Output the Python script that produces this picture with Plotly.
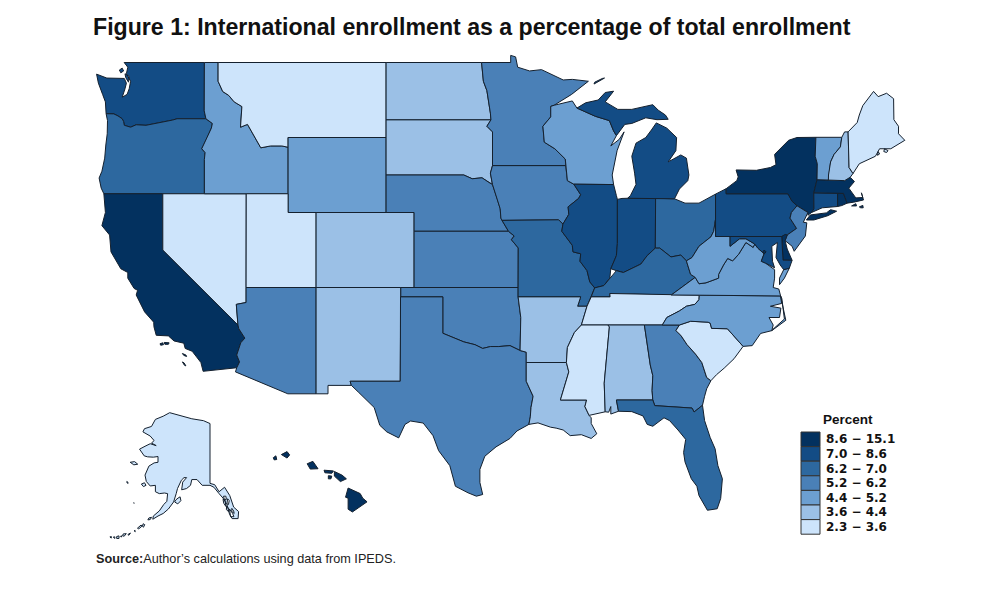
import plotly.graph_objects as go

# class of each state, 0 = lowest bin, 6 = highest bin
bin_labels = ["2.3 − 3.6", "3.6 − 4.4", "4.4 − 5.2", "5.2 − 6.2", "6.2 − 7.0", "7.0 − 8.6", "8.6 − 15.1"]
bin_colors = ["#cde4fb", "#9bc0e6", "#6c9fd1", "#4a80b7", "#2d689f", "#134c85", "#03315f"]
state_bins = {
    "WA": 5, "OR": 4, "CA": 6, "NV": 0, "ID": 2, "MT": 0, "WY": 2, "UT": 0, "CO": 1, "AZ": 3,
    "NM": 1, "ND": 1, "SD": 1, "NE": 3, "KS": 3, "OK": 3, "TX": 3, "MN": 3, "IA": 3, "MO": 4,
    "AR": 1, "LA": 1, "WI": 2, "IL": 5, "IN": 5, "MI": 5, "OH": 4, "KY": 4, "TN": 0, "MS": 0,
    "AL": 1, "GA": 3, "FL": 4, "SC": 0, "NC": 2, "VA": 2, "WV": 2, "PA": 5, "NY": 6, "VT": 2,
    "NH": 1, "ME": 0, "MA": 6, "RI": 6, "CT": 5, "NJ": 3, "DE": 6, "MD": 5, "DC": 6, "AK": 0,
    "HI": 6,
}

# state outlines as (lon, lat) rings
outlines = {
    "WA": [[(-117.03,49),(-122.76,49),(-122.5,48.75),(-122.6,48.4),(-122.3,48),(-122.4,47.6),(-122.55,47.3),(-122.9,47.15),(-122.7,47.6),(-122.6,47.9),(-122.75,48.15),(-123.15,48.15),(-124,48.17),(-124.73,48.38),(-124.6,47.9),(-124.3,47.3),(-124.1,46.9),(-124.05,46.27),(-123.5,46.26),(-123.2,46.15),(-122.9,46),(-122.8,45.85),(-122.75,45.65),(-122.3,45.55),(-121.9,45.68),(-121.2,45.65),(-120.6,45.73),(-119.9,45.85),(-119.3,45.93),(-118.98,46),(-116.92,46),(-117.04,46.42)],
           [(-123.1,48.6),(-122.9,48.7),(-122.8,48.55),(-123,48.45)], [(-122.7,48.4),(-122.4,48.25),(-122.45,47.95),(-122.65,48.2)]],
    "OR": [[(-124.05,46.27),(-123.5,46.26),(-123.2,46.15),(-122.9,46),(-122.8,45.85),(-122.75,45.65),(-122.3,45.55),(-121.9,45.68),(-121.2,45.65),(-120.6,45.73),(-119.9,45.85),(-119.3,45.93),(-118.98,46),(-116.92,46),(-116.46,45.75),(-116.53,45.5),(-116.85,44.95),(-117.22,44.4),(-116.98,44.2),(-117.03,43.83),(-117.03,42),(-120,42),(-124.21,42),(-124.4,42.3),(-124.55,42.84),(-124.35,43.2),(-124.15,43.9),(-124.07,44.6),(-123.97,45.2),(-123.95,45.9)]],
    "CA": [[(-124.21,42),(-120,42),(-120,39),(-114.63,35),(-114.57,34.8),(-114.14,34.3),(-114.43,34.05),(-114.72,33.4),(-114.52,33.03),(-114.72,32.72),(-117.12,32.53),(-117.28,33),(-117.9,33.6),(-118.4,33.75),(-118.5,34.03),(-119.2,34.15),(-119.6,34.42),(-120.47,34.45),(-120.63,34.9),(-120.65,35.15),(-121.3,35.7),(-121.9,36.6),(-121.8,36.85),(-122.05,36.95),(-122.5,37.5),(-122.5,37.8),(-123,38),(-123.7,38.9),(-123.8,39.8),(-124.35,40.3),(-124.1,41)],
           [(-120.2,34),(-120,34.05),(-119.95,33.95),(-120.15,33.92)], [(-119.9,34.07),(-119.55,34.05),(-119.6,33.97),(-119.85,33.97)],
           [(-118.6,33.48),(-118.35,33.4),(-118.3,33.32),(-118.5,33.38)], [(-118.6,33.03),(-118.45,32.85),(-118.35,32.82),(-118.48,32.98)]],
    "NV": [[(-120,42),(-114.04,42),(-114.05,37),(-114.05,36.2),(-114.75,36.1),(-114.63,35),(-120,39)]],
    "ID": [[(-117.03,49),(-116.05,49),(-116.05,48),(-115.72,47.45),(-115.3,47.25),(-114.9,46.9),(-114.35,46.65),(-114.45,45.55),(-113.95,45.7),(-113.45,45.05),(-113,44.45),(-112.3,44.55),(-111.5,44.55),(-111.05,44.48),(-111.05,42),(-114.04,42),(-117.03,42),(-117.03,43.83),(-116.98,44.2),(-117.22,44.4),(-116.85,44.95),(-116.53,45.5),(-116.46,45.75),(-116.92,46),(-117.04,46.42)]],
    "MT": [[(-116.05,49),(-104.05,49),(-104.05,45.94),(-104.05,45),(-111.05,45),(-111.05,44.48),(-111.5,44.55),(-112.3,44.55),(-113,44.45),(-113.45,45.05),(-113.95,45.7),(-114.45,45.55),(-114.35,46.65),(-114.9,46.9),(-115.3,47.25),(-115.72,47.45),(-116.05,48)]],
    "WY": [[(-111.05,45),(-104.05,45),(-104.05,43),(-104.05,41),(-109.05,41),(-111.05,41),(-111.05,42),(-111.05,44.48)]],
    "UT": [[(-114.04,42),(-111.05,42),(-111.05,41),(-109.05,41),(-109.05,37),(-114.05,37)]],
    "CO": [[(-109.05,41),(-102.05,41),(-102.05,37),(-109.05,37)]],
    "AZ": [[(-114.72,32.72),(-114.52,33.03),(-114.72,33.4),(-114.43,34.05),(-114.14,34.3),(-114.57,34.8),(-114.63,35),(-114.75,36.1),(-114.05,36.2),(-114.05,37),(-109.05,37),(-109.05,31.33),(-111.07,31.33),(-114.81,32.5)]],
    "NM": [[(-109.05,37),(-103,37),(-103.04,32),(-106.62,32),(-106.53,31.78),(-108.2,31.78),(-108.2,31.33),(-109.05,31.33)]],
    "ND": [[(-104.05,49),(-97.23,49),(-97.1,48),(-96.85,47.5),(-96.6,46.3),(-96.56,45.94),(-104.05,45.94)]],
    "SD": [[(-104.05,45.94),(-96.56,45.94),(-96.85,45.6),(-96.45,45.3),(-96.45,43.5),(-96.6,43.1),(-96.45,42.49),(-96.7,42.6),(-97.2,42.85),(-97.9,42.8),(-98.5,43),(-104.05,43)]],
    "NE": [[(-104.05,43),(-98.5,43),(-97.9,42.8),(-97.2,42.85),(-96.7,42.6),(-96.45,42.49),(-96.1,41.7),(-95.9,41.2),(-95.85,40.7),(-95.77,40.58),(-95.31,40),(-102.05,40),(-102.05,41),(-104.05,41)]],
    "KS": [[(-102.05,40),(-95.31,40),(-94.9,39.75),(-95.1,39.55),(-94.61,39.11),(-94.62,37),(-102.05,37)]],
    "OK": [[(-103,37),(-94.62,37),(-94.62,36.5),(-94.43,35.4),(-94.48,33.64),(-95.2,33.9),(-96,33.85),(-96.6,33.85),(-97.15,33.75),(-97.7,33.95),(-98.5,34.1),(-99.2,34.3),(-100,34.56),(-100,36.5),(-103,36.5)]],
    "TX": [[(-103.02,36.5),(-100,36.5),(-100,34.56),(-99.2,34.3),(-98.5,34.1),(-97.7,33.95),(-97.15,33.75),(-96.6,33.85),(-96,33.85),(-95.2,33.9),(-94.48,33.64),(-94.04,33.55),(-94.04,33),(-94.04,32),(-93.55,31.2),(-93.7,30.6),(-93.75,30.1),(-93.85,29.7),(-94.7,29.35),(-95.2,28.95),(-96.2,28.5),(-97,28),(-97.35,27.3),(-97.35,26.6),(-97.15,25.96),(-97.6,25.87),(-98.2,26.05),(-99.1,26.4),(-99.5,27.5),(-100.3,28.3),(-100.7,29.1),(-101.4,29.77),(-102.3,29.88),(-102.7,29.7),(-103.15,28.98),(-104,29.3),(-104.5,29.65),(-104.9,30.6),(-106,31.4),(-106.53,31.78),(-106.62,32),(-103.04,32)]],
    "MN": [[(-97.23,49),(-95.15,49),(-95.15,49.38),(-94.8,49.3),(-94.65,48.75),(-93.8,48.55),(-92.95,48.62),(-92,48.3),(-91.4,48.07),(-90.75,48.1),(-89.6,48),(-90.8,47.3),(-92.05,46.72),(-92.29,46.66),(-92.29,46.1),(-92.85,45.6),(-92.75,44.75),(-92,44.4),(-91.25,43.85),(-91.22,43.5),(-96.45,43.5),(-96.45,45.3),(-96.85,45.6),(-96.56,45.94),(-96.6,46.3),(-96.85,47.5),(-97.1,48)]],
    "IA": [[(-96.45,43.5),(-91.22,43.5),(-91.1,42.7),(-90.64,42.51),(-90.15,41.95),(-90.3,41.75),(-91.05,41.3),(-91,40.9),(-91.42,40.38),(-91.73,40.61),(-95.77,40.58),(-95.85,40.7),(-95.9,41.2),(-96.1,41.7),(-96.45,42.49),(-96.6,43.1)]],
    "MO": [[(-95.77,40.58),(-91.73,40.61),(-91.42,40.38),(-91.5,40),(-90.75,39.25),(-90.7,38.9),(-90.15,38.8),(-90.2,38.4),(-89.7,37.9),(-89.5,37.3),(-89.15,36.98),(-89.4,36.5),(-89.7,36),(-90.37,36),(-90.15,36.5),(-94.62,36.5),(-94.62,37),(-94.61,39.11),(-95.1,39.55),(-94.9,39.75),(-95.31,40)]],
    "AR": [[(-94.62,36.5),(-90.15,36.5),(-90.37,36),(-89.7,36),(-90.1,35),(-90.6,34.6),(-91.1,33.8),(-91.17,33),(-94.04,33),(-94.04,33.55),(-94.48,33.64),(-94.43,35.4)]],
    "LA": [[(-94.04,33),(-91.17,33),(-91,32.5),(-91.6,31),(-89.73,31),(-89.85,30.65),(-89.55,30.18),(-89.4,30.05),(-89.4,29.75),(-89,29.2),(-89.4,28.95),(-90.1,29.15),(-90.9,29.1),(-91.4,29.4),(-91.9,29.5),(-92.3,29.55),(-93.2,29.78),(-93.85,29.7),(-93.75,30.1),(-93.7,30.6),(-93.55,31.2),(-94.04,32)]],
    "WI": [[(-92.05,46.72),(-91,46.9),(-90.75,46.95),(-90.42,46.57),(-89.1,46.13),(-88.1,45.9),(-87.8,45.35),(-87.6,45.1),(-88,44.55),(-87.4,44.9),(-87.05,45.3),(-87.55,44.3),(-87.75,43.6),(-87.9,43),(-87.8,42.49),(-90.64,42.51),(-91.1,42.7),(-91.22,43.5),(-91.25,43.85),(-92,44.4),(-92.75,44.75),(-92.85,45.6),(-92.29,46.1),(-92.29,46.66)]],
    "IL": [[(-90.64,42.51),(-87.8,42.49),(-87.6,41.9),(-87.53,41.7),(-87.53,39.35),(-87.6,38.7),(-88,38),(-88.07,37.5),(-88.5,37.1),(-89.15,36.98),(-89.5,37.3),(-89.7,37.9),(-90.2,38.4),(-90.15,38.8),(-90.7,38.9),(-90.75,39.25),(-91.5,40),(-91.42,40.38),(-91,40.9),(-91.05,41.3),(-90.3,41.75),(-90.15,41.95)]],
    "IN": [[(-87.53,41.7),(-87.2,41.75),(-86.8,41.76),(-84.8,41.76),(-84.82,39.1),(-85.4,38.7),(-85.85,38.25),(-86.5,38),(-87.1,37.8),(-87.6,37.9),(-88,38),(-87.6,38.7),(-87.53,39.35)]],
    "OH": [[(-84.8,41.76),(-83.45,41.73),(-82.7,41.5),(-81.7,41.5),(-80.52,41.98),(-80.52,40.64),(-80.65,40),(-80.85,39.7),(-81.7,39.2),(-82.2,38.6),(-82.6,38.42),(-83,38.73),(-83.7,38.63),(-84.5,39.1),(-84.82,39.1)]],
    "MI": [[(-86.8,41.76),(-84.8,41.76),(-83.45,41.73),(-83.1,42.25),(-82.5,42.7),(-82.42,43),(-82.6,43.9),(-83,44.07),(-83.9,43.7),(-83.35,44.3),(-83.3,45),(-84,45.5),(-84.75,45.78),(-85.1,45.4),(-85.5,45),(-86.2,44.7),(-86.5,44),(-86.3,43.1),(-86.2,42.5),(-86.6,41.9)],
           [(-90.42,46.57),(-89.8,46.85),(-88.9,47),(-88.4,47.4),(-87.8,47.47),(-88.4,46.9),(-87.5,46.5),(-86.5,46.5),(-85,46.75),(-84.6,46.45),(-84.1,46.2),(-83.9,45.97),(-84.7,45.95),(-85.5,46.05),(-86.5,45.75),(-87,45.7),(-87.6,45.1),(-87.8,45.35),(-88.1,45.9),(-89.1,46.13)],
           [(-89.2,47.85),(-88.45,48.17),(-88.6,48.15),(-89.15,47.95)]],
    "KY": [[(-89.4,36.5),(-89.15,36.98),(-88.5,37.1),(-88.07,37.5),(-87.6,37.9),(-87.1,37.8),(-86.5,38),(-85.85,38.25),(-85.4,38.7),(-84.82,39.1),(-84.5,39.1),(-83.7,38.63),(-83,38.73),(-82.6,38.42),(-82.3,37.7),(-81.97,37.54),(-83.68,36.6),(-88.07,36.68),(-88.05,36.5)]],
    "TN": [[(-90.1,35),(-89.7,36),(-89.4,36.5),(-88.05,36.5),(-88.07,36.68),(-83.68,36.6),(-81.68,36.59),(-81.7,36.35),(-82,36.1),(-82.6,36),(-83.1,35.75),(-84,35.4),(-84.32,35),(-85.6,35),(-88.2,35)]],
    "MS": [[(-90.1,35),(-88.2,35),(-88.1,34.9),(-88.47,31.9),(-88.4,30.37),(-89.55,30.18),(-89.85,30.65),(-89.73,31),(-91.6,31),(-91,32.5),(-91.17,33),(-91.1,33.8),(-90.6,34.6)]],
    "AL": [[(-88.2,35),(-85.6,35),(-85.18,32.87),(-85,32.3),(-85.05,31.5),(-85,31),(-87.6,31),(-87.45,30.4),(-88,30.25),(-88,30.65),(-88.15,30.35),(-88.4,30.37),(-88.47,31.9),(-88.1,34.9)]],
    "GA": [[(-85.6,35),(-84.32,35),(-83.1,35),(-83.35,34.7),(-83,34.45),(-82.55,33.95),(-81.95,33.45),(-81.5,33),(-81.15,32.2),(-80.85,32.03),(-81.15,31.6),(-81.3,31.2),(-81.45,30.72),(-82.05,30.36),(-82.2,30.57),(-84.86,30.7),(-85,31),(-85.05,31.5),(-85,32.3),(-85.18,32.87)]],
    "FL": [[(-87.6,31),(-85,31),(-84.86,30.7),(-82.2,30.57),(-82.05,30.36),(-81.45,30.72),(-81.3,29.9),(-80.9,29),(-80.55,28.4),(-80.35,27.5),(-80.03,26.8),(-80.15,25.75),(-80.4,25.2),(-81.1,25.12),(-81.7,25.9),(-81.85,26.4),(-82.25,26.8),(-82.7,27.7),(-82.8,28.2),(-82.65,28.9),(-83.2,29.4),(-83.8,29.9),(-84.2,30.05),(-85,29.6),(-85.4,29.7),(-85.7,30.15),(-86.5,30.38),(-87.45,30.4)]],
    "SC": [[(-83.1,35),(-82.3,35.2),(-81.05,35.15),(-80.9,35.1),(-80.8,34.82),(-79.67,34.8),(-78.55,33.86),(-79.2,33.2),(-79.9,32.7),(-80.45,32.35),(-80.85,32.03),(-81.15,32.2),(-81.5,33),(-81.95,33.45),(-82.55,33.95),(-83,34.45),(-83.35,34.7)]],
    "NC": [[(-84.32,35),(-84,35.4),(-83.1,35.75),(-82.6,36),(-82,36.1),(-81.7,36.35),(-81.68,36.59),(-75.87,36.55),(-75.8,36.15),(-76.6,36),(-75.85,35.9),(-75.95,35.4),(-76.7,35.4),(-76.4,35),(-76.5,34.7),(-77.3,34.55),(-77.9,33.9),(-78.55,33.86),(-79.67,34.8),(-80.8,34.82),(-80.9,35.1),(-81.05,35.15),(-82.3,35.2),(-83.1,35)],
           [(-75.87,36.55),(-75.5,35.25),(-76.5,34.7),(-76.45,34.75),(-75.6,35.32),(-75.78,36.4)]],
    "VA": [[(-83.68,36.6),(-81.97,37.54),(-81.7,37.2),(-81.2,37.25),(-80.3,37.5),(-80.3,37.7),(-79.95,38.2),(-79.65,38.55),(-79.3,38.42),(-78.87,38.77),(-78.35,39.4),(-77.83,39.14),(-77.72,39.32),(-77.5,39.1),(-77.05,38.8),(-77.25,38.4),(-76.95,38.3),(-76.3,37.95),(-76.3,37.5),(-76.4,37),(-76,36.92),(-75.87,36.55),(-81.68,36.59)],
           [(-75.65,37.95),(-75.25,38.03),(-75.6,37.5),(-75.95,37.15),(-75.95,37.5)]],
    "WV": [[(-80.52,40.64),(-80.52,39.72),(-79.48,39.72),(-79.48,39.2),(-78.8,39.6),(-78.35,39.6),(-77.72,39.32),(-77.83,39.14),(-78.35,39.4),(-78.87,38.77),(-79.3,38.42),(-79.65,38.55),(-79.95,38.2),(-80.3,37.7),(-80.3,37.5),(-81.2,37.25),(-81.7,37.2),(-81.97,37.54),(-82.3,37.7),(-82.6,38.42),(-82.2,38.6),(-81.7,39.2),(-80.85,39.7),(-80.65,40)]],
    "PA": [[(-80.52,41.98),(-79.76,42.27),(-79.76,42),(-75.35,42),(-75.05,41.6),(-74.7,41.36),(-75.1,41),(-75.2,40.7),(-74.73,40.15),(-75.4,39.8),(-75.79,39.72),(-80.52,39.72),(-80.52,40.64)]],
    "NY": [[(-79.76,42.27),(-79,42.7),(-78.9,42.9),(-79.05,43.27),(-77.6,43.25),(-76.6,43.4),(-76.2,43.55),(-76.3,44.1),(-75.3,44.85),(-74.7,45),(-73.35,45.01),(-73.4,44),(-73.25,43.6),(-73.27,42.75),(-73.5,42.05),(-73.49,41.2),(-73.66,41),(-73.92,40.85),(-73.92,41),(-74.7,41.36),(-75.05,41.6),(-75.35,42),(-79.76,42)],
           [(-74.03,40.6),(-73.75,40.87),(-72.6,40.98),(-72.3,41.15),(-71.87,41.07),(-72.5,40.83),(-73.5,40.6)]],
    "NJ": [[(-74.7,41.36),(-73.92,41),(-74.25,40.48),(-74,40.45),(-74.1,39.75),(-74.9,38.93),(-75.05,39.2),(-75.55,39.5),(-75.4,39.8),(-74.73,40.15),(-75.2,40.7),(-75.1,41)]],
    "CT": [[(-73.5,42.05),(-71.8,42.02),(-71.8,41.32),(-72.9,41.25),(-73.66,41),(-73.49,41.2)]],
    "RI": [[(-71.8,42.02),(-71.38,42.02),(-71.12,41.5),(-71.5,41.37),(-71.8,41.32)]],
    "MA": [[(-73.27,42.75),(-71.3,42.7),(-70.9,42.88),(-70.6,42.65),(-71,42.3),(-70.65,41.95),(-70.5,41.78),(-70,41.8),(-70.1,42.05),(-69.95,41.67),(-70.65,41.55),(-71.12,41.5),(-71.38,42.02),(-71.8,42.02),(-73.5,42.05)],
           [(-70.8,41.35),(-70.5,41.47),(-70.45,41.35),(-70.7,41.33)], [(-70.25,41.3),(-70,41.38),(-69.97,41.25),(-70.15,41.25)]],
    "VT": [[(-73.35,45.01),(-71.5,45.01),(-71.6,44.5),(-72.05,44.1),(-72.3,43.7),(-72.45,43),(-72.46,42.73),(-73.27,42.75),(-73.25,43.6),(-73.4,44)]],
    "NH": [[(-71.5,45.01),(-71.3,45.3),(-71.05,45.3),(-70.98,43.4),(-70.7,43.08),(-70.9,42.88),(-71.3,42.7),(-72.46,42.73),(-72.45,43),(-72.3,43.7),(-72.05,44.1),(-71.6,44.5)]],
    "ME": [[(-71.05,45.3),(-70.4,45.8),(-70.25,46.2),(-70,46.7),(-69.23,47.46),(-68.9,47.18),(-68.3,47.36),(-67.8,47.07),(-67.78,45.95),(-67.45,45.6),(-67.45,45.2),(-67,44.85),(-68,44.4),(-68.8,44.4),(-69.1,44),(-69.8,43.75),(-70.25,43.6),(-70.7,43.08),(-70.98,43.4)],
           [(-68.45,44.4),(-68.2,44.3),(-68.3,44.2),(-68.5,44.25)], [(-68.9,44.25),(-68.8,44.12),(-68.95,44.05)]],
    "DE": [[(-75.79,39.72),(-75.55,39.83),(-75.4,39.8),(-75.55,39.5),(-75.4,39.05),(-75.05,38.45),(-75.7,38.46)]],
    "MD": [[(-79.48,39.72),(-75.79,39.72),(-75.7,38.46),(-75.05,38.45),(-75.25,38.03),(-75.65,37.95),(-75.9,38.2),(-76.2,38.6),(-76.1,39.4),(-76.5,39.2),(-76.45,38.4),(-76.3,38.05),(-76.95,38.3),(-77.25,38.4),(-77.05,38.8),(-77.5,39.1),(-77.72,39.32),(-78.35,39.6),(-78.8,39.6),(-79.48,39.2)]],
    "DC": [[(-77.12,38.93),(-77.04,39),(-76.91,38.9),(-77.04,38.79)]],
    "AK": [[(-141,69.65),(-143.5,70.1),(-148,70.4),(-152,70.9),(-156.5,71.35),(-159,70.8),(-162,70.3),(-163.5,69.2),(-166.2,68.85),(-166.8,68.35),(-164,67.7),(-162.5,67),(-163.5,66.6),(-161.7,66.2),(-164,66.5),(-166,66.1),(-168.1,65.65),(-166.3,64.6),(-165,64.45),(-162.8,64.4),(-161,64.5),(-161,63.6),(-162.5,63.5),(-164.5,63),(-166,61.6),(-165.5,60.6),(-164,59.9),(-162,60),(-162,59),(-160.5,58.7),(-158.5,58.8),(-157.3,58.7),(-157.6,57.5),(-158.8,57),(-160.5,56),(-162.8,55.2),(-163,54.7),(-161,55.2),(-159,55.6),(-157,56.3),(-155,57.4),(-154,58.7),(-153.5,59.5),(-152,60.8),(-151,61.2),(-150,61.2),(-151.5,60.5),(-151.9,59.3),(-150,59.5),(-148.5,60),(-148,60.9),(-146,60.9),(-144,60),(-141,60),(-139.5,59.7),(-137.5,58.7),(-136,58),(-134.5,57),(-133.5,55.5),(-132.5,54.8),(-130.2,54.8),(-130,55.9),(-131.9,56.6),(-133.4,58.4),(-135.4,59.7),(-137.5,59),(-139.2,60.1),(-141,60.3)],
           [(-154.6,57.4),(-153.4,57.1),(-152.2,57.6),(-152.5,58.2),(-153.3,58),(-154.2,57.7)], [(-171.7,63.6),(-170,63.7),(-168.8,63.3),(-170.3,63.2)], [(-167.4,60.2),(-166.2,60.4),(-165.6,60),(-166.6,59.8)],
           [(-173,60.6),(-172.6,60.5),(-172.5,60.3),(-172.95,60.4)], [(-170.4,57.25),(-170.1,57.22),(-170.2,57.12)],
           [(-164.9,54.6),(-164,54.65),(-163.5,55),(-164.5,54.9)], [(-166.7,54),(-166.1,53.85),(-166.6,53.45),(-167,53.6)], [(-168.9,53.3),(-167.5,53.8),(-167.2,53.6),(-168.4,53.2)],
           [(-170.2,52.9),(-169.8,52.95),(-169.75,52.75)], [(-172.6,52.3),(-171.6,52.55),(-172.2,52.2)], [(-174.4,52.4),(-173.2,52.45),(-174,52.05),(-174.6,52.1)], [(-175.4,52.05),(-174.9,52.1),(-175.1,51.9)], [(-176.9,52),(-176,52.1),(-176,51.7),(-176.9,51.7)], [(-178.2,51.9),(-177.6,51.95),(-177.6,51.7)], [(-179.5,51.95),(-178.9,51.98),(-179,51.75)],
           [(-135.8,58.3),(-134.9,58.3),(-134.7,57.8),(-135.5,57.8)], [(-136,57.8),(-135.2,57.7),(-134.9,56.7),(-135.7,57.2)], [(-134.6,56.8),(-133.7,56.3),(-133.9,55.9),(-134.7,56.2)], [(-133.5,56.3),(-132.3,55.6),(-131.8,55.1),(-133.1,55.1)], [(-132.6,56.4),(-131.9,56),(-131.7,55.6),(-132.6,55.9)], [(-134.2,57.9),(-133.6,57.6),(-133.9,57),(-134.5,57.1)]],
    "HI": [[(-155.9,20.25),(-155.2,19.95),(-155.05,19.7),(-154.8,19.5),(-155.65,18.95),(-155.9,19.1),(-155.9,19.7),(-156.05,19.75)],
           [(-156.7,21.15),(-156.25,20.95),(-156,20.75),(-156.35,20.6),(-156.7,20.9)], [(-157.3,21.22),(-156.75,21.18),(-156.85,21.05),(-157.25,21.08)], [(-157.05,20.92),(-156.85,20.9),(-156.9,20.75),(-157.05,20.75)], [(-158.28,21.57),(-157.95,21.7),(-157.65,21.3),(-158.1,21.28)],
           [(-159.78,22.07),(-159.45,22.23),(-159.3,22.05),(-159.45,21.88)], [(-160.25,21.9),(-160.1,22),(-160.05,21.8),(-160.2,21.78)]],
}

# map to pixel scale of the picture
PX_PER_LON = 14.0
PX_PER_LAT = 18.75
X_AT_LON = 97.0
Y_AT_LAT = 62.5
LON_REF = -124.7
LAT_REF = 49.0


def lon_of(px):
    return LON_REF + (px - X_AT_LON) / PX_PER_LON


def lat_of(py):
    return LAT_REF - (py - Y_AT_LAT) / PX_PER_LAT


def inset_alaska(lon, lat):
    return lon_of(210 + 2.6 * (lon + 141)), lat_of(413 + 6.4 * (71.3 - lat))


def inset_hawaii(lon, lat):
    return lon_of(355 + 17.2 * (lon + 155.5)), lat_of(500 + 18.4 * (19.6 - lat))


def ringsToXY(rings, move=None):
    xs, ys = [], []
    for ring in rings:
        closed = ring + ring[:1]
        for lon, lat in closed:
            if move:
                lon, lat = move(lon, lat)
            xs.append(lon)
            ys.append(lat)
        xs.append(None)
        ys.append(None)
    return xs, ys


fig = go.Figure()
for state, rings in outlines.items():
    move = {"AK": inset_alaska, "HI": inset_hawaii}.get(state)
    xs, ys = ringsToXY(rings, move)
    fig.add_trace(go.Scatter(x=xs, y=ys, mode="lines", fill="toself", name=state,
        fillcolor=bin_colors[state_bins[state]], line=dict(color="#14202e", width=1),
        hoverinfo="name", showlegend=False))

# legend keys are built by hand, top class first
shapes = []
annotations = []
key_top = 432
key_height = 14.6
for i, label in enumerate(reversed(bin_labels)):
    y0 = key_top + i * key_height
    shapes.append(dict(type="rect", xref="paper", yref="paper", x0=0.801, x1=0.820,
        y0=1 - y0 / 600, y1=1 - (y0 + key_height) / 600,
        fillcolor=list(reversed(bin_colors))[i], line=dict(color="#333333", width=1)))
    annotations.append(dict(xref="paper", yref="paper", x=0.824, y=1 - (y0 + key_height / 2) / 600,
        text="<b>%s</b>" % label, showarrow=False, xanchor="left", yanchor="middle",
        font=dict(family="DejaVu Sans", size=12, color="#111111")))

annotations.append(dict(xref="paper", yref="paper", x=0.848, y=1 - 419 / 600, xanchor="center", yanchor="middle",
    text="<b>Percent</b>", showarrow=False, font=dict(family="Liberation Sans", size=13.5, color="#111111")))
annotations.append(dict(xref="paper", yref="paper", x=0.091, y=1 - 27 / 600, xanchor="left", yanchor="middle",
    text="<b>Figure 1: International enrollment as a percentage of total enrollment</b>",
    showarrow=False, font=dict(family="Liberation Sans", size=23.15, color="#111111")))
annotations.append(dict(xref="paper", yref="paper", x=0.094, y=1 - 559 / 600, xanchor="left", yanchor="middle",
    text="<b>Source:</b>Author’s calculations using data from IPEDS.",
    showarrow=False, font=dict(family="Liberation Sans", size=12.7, color="#222222")))

fig.update_layout(width=1000, height=600, margin=dict(l=0, r=0, t=0, b=0),
    paper_bgcolor="white", plot_bgcolor="white", shapes=shapes, annotations=annotations,
    xaxis=dict(range=[lon_of(0), lon_of(1000)], visible=False),
    yaxis=dict(range=[lat_of(600), lat_of(0)], visible=False))

# the page's default body margin would push the figure 8px off
fig.write_html("out.html", config={"displayModeBar": False}, post_script="document.body.style.margin='0';")
